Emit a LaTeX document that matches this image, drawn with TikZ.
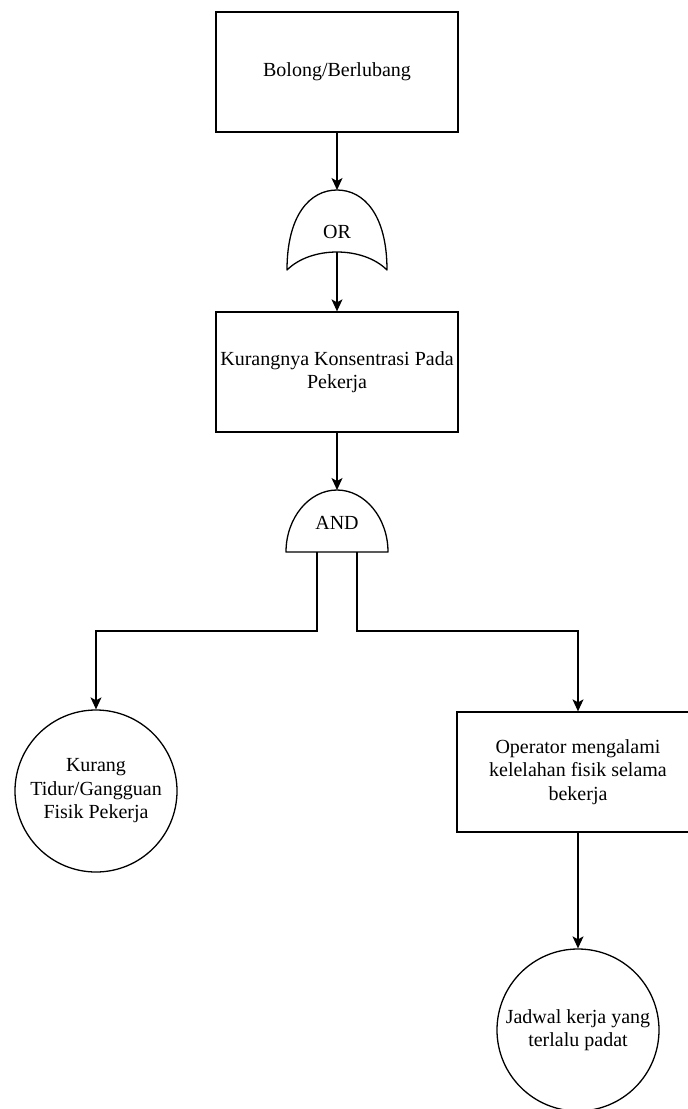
\documentclass[tikz,border=0pt]{standalone}
\usepackage{fontspec}
\setmainfont{Liberation Serif}
\usetikzlibrary{arrows.meta}
\tikzset{
  eventbox/.style={draw,line width=1.3pt,minimum width=242pt,minimum height=120pt,inner sep=0pt,align=center,font=\fontsize{20}{23.5}\selectfont},
  basiccirc/.style={draw,circle,line width=1.3pt,minimum size=162pt,inner sep=0pt,align=center,font=\fontsize{20}{23.5}\selectfont},
  gatelabel/.style={inner sep=0pt,font=\fontsize{20}{23.5}\selectfont},
  gate/.style={line width=1.3pt,line join=round},
  link/.style={line width=1.3pt,-{Stealth[length=12pt,width=11pt,inset=3pt]}},
}
\begin{document}
\begin{tikzpicture}[x=1pt,y=-1pt]
\useasboundingbox (0,0) rectangle (688,1109);
\node[eventbox](top)at(337,72){Bolong/Berlubang};
\node[eventbox](konsentrasi)at(337,372){Kurangnya Konsentrasi Pada\\Pekerja};
\node[basiccirc](tidur)at(96,791){Kurang\\Tidur/Gangguan\\Fisik Pekerja};
\node[eventbox](lelah)at(578,772){Operator mengalami\\kelelahan fisik selama\\bekerja};
\node[basiccirc](jadwal)at(578,1030){Jadwal kerja yang\\terlalu padat};
% OR gate
\begin{scope}[shift={(337,190)}]
\draw[gate](-50,80) .. controls (-50,25) and (-27,0) .. (0,0) .. controls (27,0) and (50,25) .. (50,80) .. controls (26,56) and (-26,56) .. (-50,80)--cycle;
\coordinate(ortop)at(0,0);
\coordinate(orbot)at(0,62);
\node[gatelabel](or)at(0,42){OR};
\end{scope}
% AND gate
\begin{scope}[shift={(337,490)}]
\draw[gate](-51,62) .. controls (-51,28) and (-28,0) .. (0,0) .. controls (28,0) and (51,28) .. (51,62)--cycle;
\coordinate(andtop)at(0,0);
\coordinate(andL)at(-20,62);
\coordinate(andR)at(20,62);
\node[gatelabel](and)at(0,33){AND};
\end{scope}
\draw[link](top)--(ortop);
\draw[link](orbot)--(konsentrasi);
\draw[link](konsentrasi)--(andtop);
\draw[link](andL)--++(0,79)-|(tidur);
\draw[link](andR)--++(0,79)-|(lelah);
\draw[link](lelah)--(jadwal);
\end{tikzpicture}
\end{document}
